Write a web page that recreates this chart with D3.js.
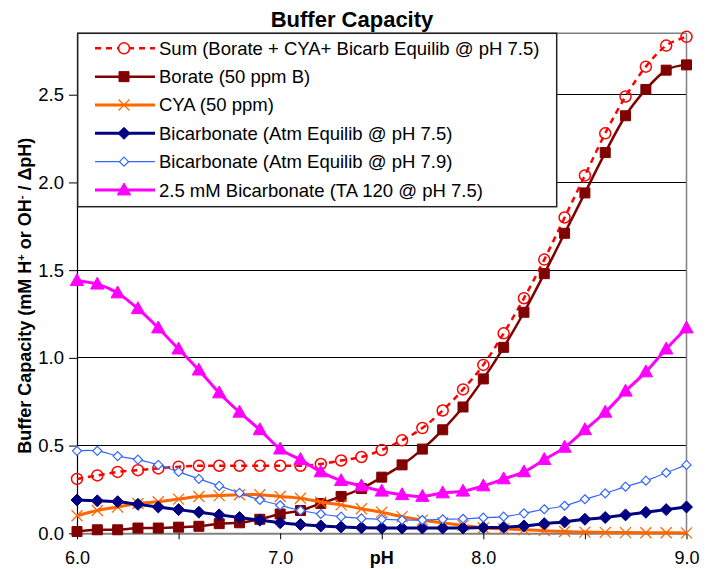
<!DOCTYPE html>
<html><head><meta charset="utf-8">
<script src="https://cdn.jsdelivr.net/npm/d3@7"></script>
<style>body{margin:0;background:#fff}svg{display:block;font-family:"Liberation Sans",Arial,sans-serif}</style>
</head><body><svg id="c" width="707" height="569"></svg>
<script>
const pH = [6.0,6.1,6.2,6.3,6.4,6.5,6.6,6.7,6.8,6.9,7.0,7.1,7.2,7.3,7.4,7.5,7.6,7.7,7.8,7.9,8.0,8.1,8.2,8.3,8.4,8.5,8.6,8.7,8.8,8.9,9.0];
const sumVals = [0.31,0.33,0.35,0.36,0.37,0.38,0.385,0.385,0.385,0.385,0.385,0.385,0.395,0.415,0.435,0.475,0.53,0.60,0.70,0.82,0.96,1.14,1.34,1.56,1.80,2.04,2.28,2.49,2.66,2.78,2.83];
const borateVals = [0.01,0.02,0.02,0.03,0.03,0.035,0.04,0.055,0.06,0.08,0.11,0.13,0.17,0.21,0.255,0.32,0.39,0.48,0.59,0.72,0.88,1.06,1.26,1.48,1.71,1.94,2.17,2.38,2.53,2.64,2.67];
const cyaVals = [0.10,0.13,0.15,0.17,0.18,0.195,0.21,0.215,0.22,0.22,0.21,0.20,0.178,0.162,0.14,0.12,0.095,0.075,0.06,0.045,0.03,0.025,0.02,0.015,0.01,0.007,0.005,0.004,0.003,0.003,0.002];
const bicarb75Vals = [0.19,0.185,0.18,0.165,0.15,0.135,0.12,0.105,0.09,0.075,0.06,0.05,0.042,0.036,0.032,0.03,0.03,0.03,0.03,0.03,0.033,0.035,0.042,0.055,0.065,0.08,0.09,0.105,0.12,0.135,0.15];
const bicarb79Vals = [0.47,0.47,0.44,0.42,0.39,0.35,0.31,0.27,0.23,0.19,0.16,0.13,0.11,0.095,0.085,0.08,0.076,0.076,0.08,0.083,0.089,0.095,0.114,0.137,0.157,0.194,0.228,0.266,0.30,0.345,0.39];
const ta120Vals = [1.44,1.42,1.37,1.28,1.17,1.05,0.93,0.80,0.69,0.59,0.48,0.42,0.35,0.30,0.27,0.24,0.22,0.21,0.23,0.24,0.27,0.31,0.35,0.42,0.49,0.59,0.69,0.81,0.92,1.05,1.17];
const seriesNames = ["Sum (Borate + CYA+ Bicarb Equilib @ pH 7.5)","Borate (50 ppm B)","CYA (50 ppm)","Bicarbonate (Atm Equilib @ pH 7.5)","Bicarbonate (Atm Equilib @ pH 7.9)","2.5 mM Bicarbonate (TA 120 @ pH 7.5)"];
const xTickLabels = ["6.0","7.0","8.0","9.0"];
const yTickLabels = ["0.0","0.5","1.0","1.5","2.0","2.5"];

const series = [
  {name:seriesNames[0], vals:sumVals, color:"#ff0000", w:2.5, dash:"6,5", marker:"circle", ms:5.5, fill:"none", mw:1.5},
  {name:seriesNames[1], vals:borateVals, color:"#800000", w:2.5, marker:"square", ms:5, fill:"#800000", mw:1},
  {name:seriesNames[2], vals:cyaVals, color:"#ff6600", w:3, marker:"x", ms:5.5, fill:"none", mw:1.2},
  {name:seriesNames[3], vals:bicarb75Vals, color:"#000080", w:3, marker:"diamond", ms:6, fill:"#000080", mw:1},
  {name:seriesNames[4], vals:bicarb79Vals, color:"#3366ff", w:1.2, marker:"diamond", ms:4.5, fill:"#fff", mw:1.2},
  {name:seriesNames[5], vals:ta120Vals, color:"#ff00ff", w:3, marker:"triangle", ms:7, fill:"#ff00ff", mw:1}
];

const L=77, R=686.5, T=33.3, B=533.3;
const svg = d3.select("#c");
const x = d3.scaleLinear().domain([6,9]).range([L,R]);
const y = d3.scaleLinear().domain([0,2.85]).range([B,T]);

// gridlines
svg.append("g").selectAll("line").data([0.5,1,1.5,2,2.5]).join("line")
  .attr("x1",L).attr("x2",R).attr("y1",d=>y(d)).attr("y2",d=>y(d))
  .attr("stroke","#000").attr("stroke-width",1).attr("shape-rendering","crispEdges");
// plot borders top/right
svg.append("line").attr("x1",L).attr("x2",R).attr("y1",T).attr("y2",T).attr("stroke","#808080").attr("stroke-width",1.5);
svg.append("line").attr("x1",R).attr("x2",R).attr("y1",T).attr("y2",B).attr("stroke","#808080").attr("stroke-width",1.5);

// axes
const xAxis = d3.axisBottom(x).tickValues([6,6.5,7,7.5,8,8.5,9]).tickSizeInner(6).tickSizeOuter(0)
  .tickFormat(d => Number.isInteger(d) ? xTickLabels[d-6] : "");
const gx = svg.append("g").attr("transform",`translate(0,${B})`).call(xAxis);
gx.select(".domain").attr("stroke","#808080").attr("stroke-width",2);
gx.selectAll(".tick line").attr("stroke","#000");
gx.selectAll("text").attr("font-size","18px").attr("fill","#000").attr("y",30.5).attr("dy",null);

const yAxis = d3.axisLeft(y).tickValues([0,0.5,1,1.5,2,2.5]).tickSizeInner(8).tickSizeOuter(0).tickPadding(5)
  .tickFormat((d,i)=>yTickLabels[i]);
const gy = svg.append("g").attr("transform",`translate(${L},0)`).call(yAxis);
gy.select(".domain").attr("stroke","#000").attr("stroke-width",1.2);
gy.selectAll(".tick line").attr("stroke","#000");
gy.selectAll("text").attr("font-size","18.5px").attr("fill","#000");

// markers
function markerPath(type, s){
  switch(type){
    case "square": return `M${-s},${-s}H${s}V${s}H${-s}Z`;
    case "diamond": return `M0,${-s}L${s},0L0,${s}L${-s},0Z`;
    case "triangle": return `M0,${-s}L${s*0.95},${s*0.7}L${-s*0.95},${s*0.7}Z`;
    case "x": return `M${-s},${-s}L${s},${s}M${s},${-s}L${-s},${s}`;
    case "circle": return `M${s},0A${s},${s} 0 1,1 ${-s},0A${s},${s} 0 1,1 ${s},0Z`;
  }
}
const line = d3.line().x((d,i)=>x(pH[i])).y(d=>y(d)).curve(d3.curveCardinal.tension(0));

series.forEach(s=>{
  const g = svg.append("g");
  g.append("path").attr("d",line(s.vals)).attr("fill","none").attr("stroke",s.color)
    .attr("stroke-width",s.w).attr("stroke-dasharray",s.dash||null).attr("stroke-linejoin","round");
  g.selectAll("path.m").data(s.vals).join("path").attr("class","m")
    .attr("transform",(d,i)=>`translate(${x(pH[i])},${y(d)})`)
    .attr("d",markerPath(s.marker,s.ms)).attr("fill",s.fill).attr("stroke",s.color).attr("stroke-width",s.mw);
});

// legend
const lg = svg.append("g");
lg.append("rect").attr("x",77.7).attr("y",33.3).attr("width",479).attr("height",173.4)
  .attr("fill","#fff").attr("stroke","#222").attr("stroke-width",1.5);
series.forEach((s,i)=>{
  const cy = 48.3 + i*28.35;
  lg.append("line").attr("x1",95).attr("x2",155).attr("y1",cy).attr("y2",cy).attr("stroke",s.color)
    .attr("stroke-width",s.w).attr("stroke-dasharray",s.dash||null);
  lg.append("path").attr("transform",`translate(124,${cy})`).attr("d",markerPath(s.marker,s.ms))
    .attr("fill",s.fill==="none"&&s.marker==="circle"?"#fff":s.fill).attr("stroke",s.color).attr("stroke-width",s.mw);
  lg.append("text").attr("x",159).attr("y",cy).attr("dy","0.35em").attr("font-size","18.5px").text(s.name);
});

// title
svg.append("text").attr("x",352).attr("y",26.7).attr("text-anchor","middle").attr("font-size","22px").attr("font-weight","bold").text("Buffer Capacity");
// x label
svg.append("text").attr("x",381.7).attr("y",564).attr("text-anchor","middle").attr("font-size","18px").attr("font-weight","bold").text("pH");
// y label
const yl = svg.append("text").attr("transform","translate(31,295.7) rotate(-90)").attr("text-anchor","middle")
  .attr("font-size","18px").attr("font-weight","bold");
yl.append("tspan").text("Buffer Capacity (mM H");
yl.append("tspan").attr("baseline-shift","super").attr("font-size","11px").text("+");
yl.append("tspan").text(" or OH");
yl.append("tspan").attr("baseline-shift","super").attr("font-size","11px").text("-");
yl.append("tspan").text(" / ΔpH)");
</script></body></html>
